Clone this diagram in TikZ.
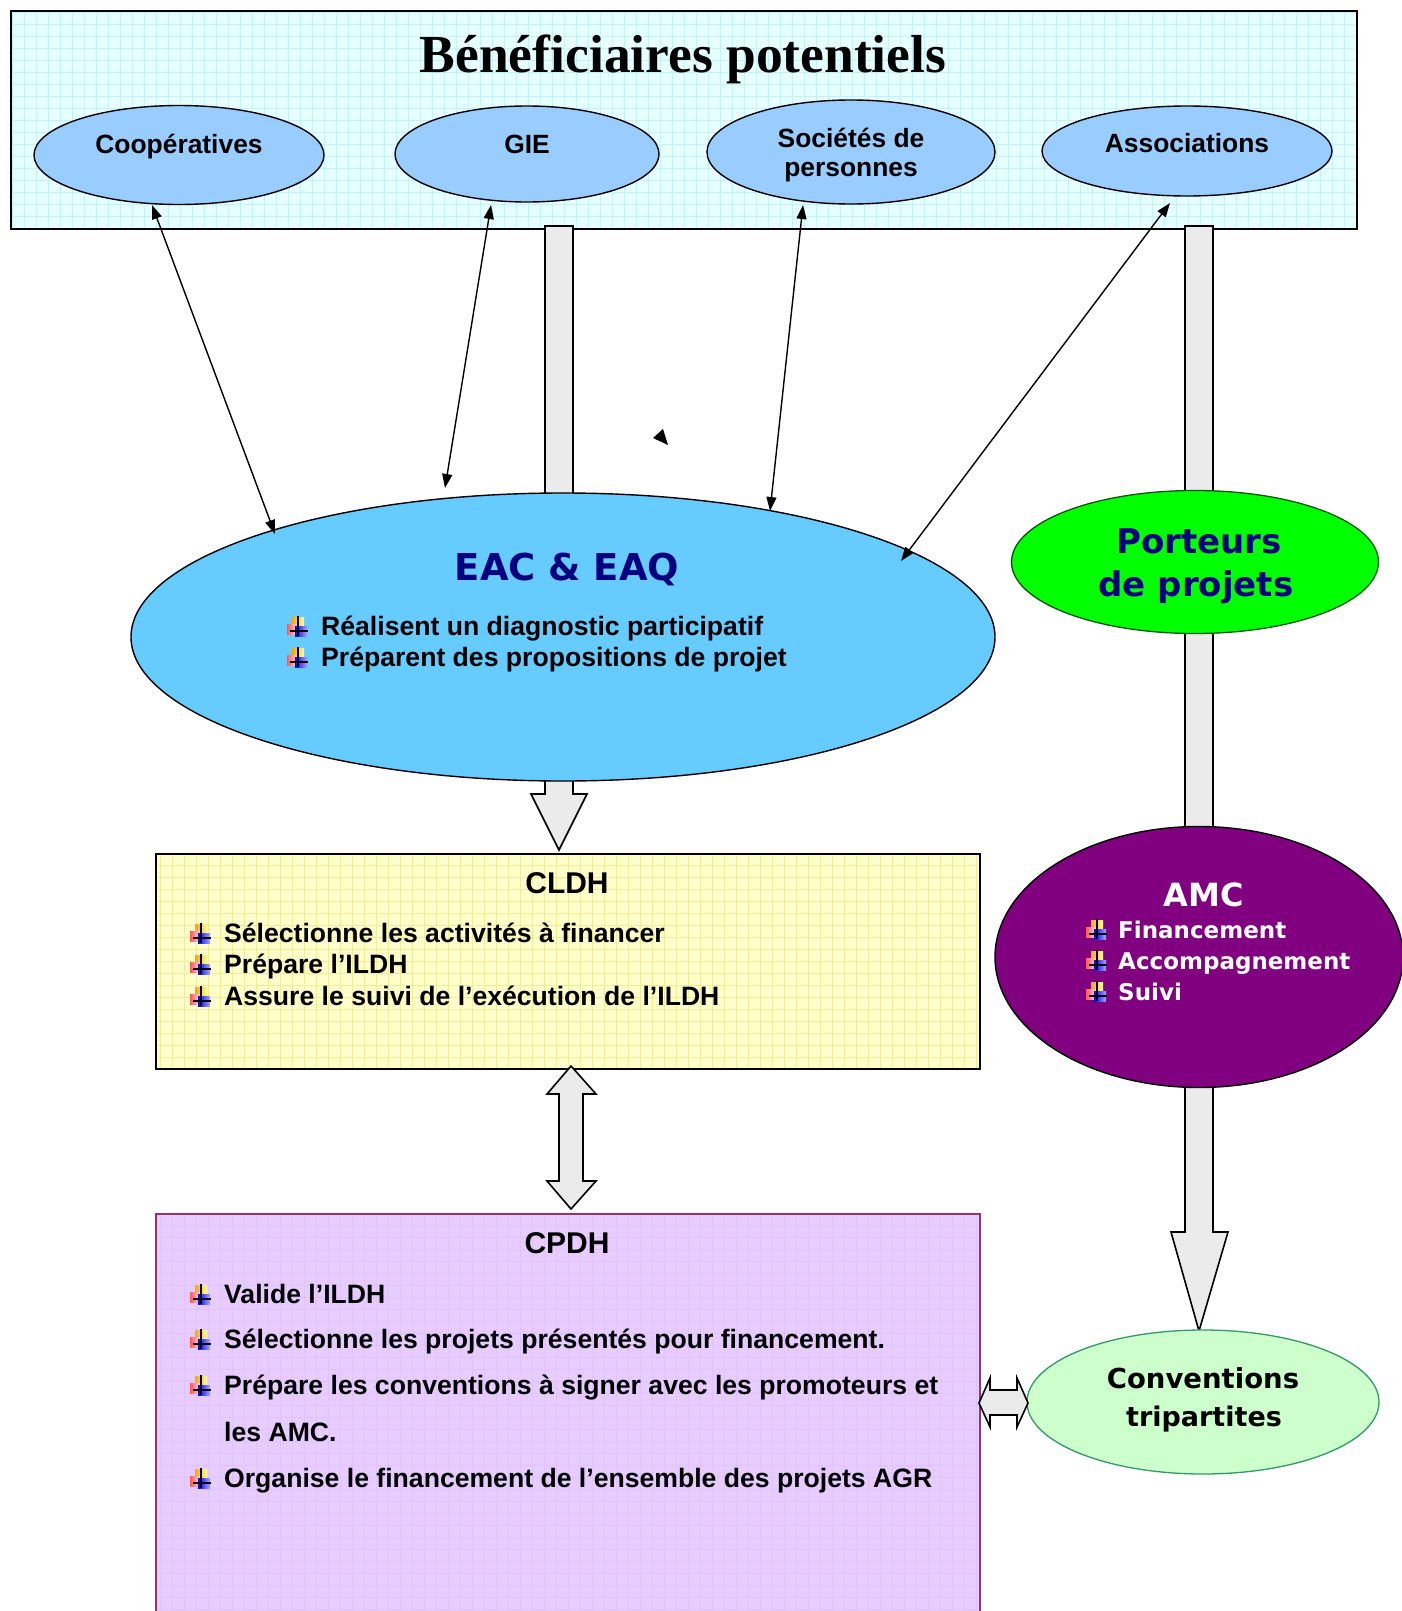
\documentclass[tikz,border=0pt]{standalone}
\usepackage{fontspec}
\setmainfont{Liberation Serif}
\newfontfamily\arl{Liberation Sans}
\newfontfamily\dvs{DejaVu Sans}
\usetikzlibrary{arrows.meta,calc,shapes.geometric}
\definecolor{topfill}{HTML}{E6FFFF}
\definecolor{topgrid}{HTML}{C4F2F8}
\definecolor{ellblue}{HTML}{99CCFF}
\definecolor{eacblue}{HTML}{66CCFF}
\definecolor{navyc}{HTML}{000080}
\definecolor{pgreen}{HTML}{00FF00}
\definecolor{amcpurple}{HTML}{800080}
\definecolor{convfill}{HTML}{CCFFCC}
\definecolor{convline}{HTML}{339966}
\definecolor{cldhfill}{HTML}{FFFFCC}
\definecolor{cldhgrid}{HTML}{F2EC9A}
\definecolor{cpdhfill}{HTML}{E6CCFF}
\definecolor{cpdhgrid}{HTML}{CC99FF}
\definecolor{cpdhline}{HTML}{993366}
\definecolor{barfill}{HTML}{EBEBEB}
\newcommand\bodyf{\arl\bfseries\fontsize{26.6}{32}\selectfont}
\newcommand\lblf{\arl\bfseries\fontsize{26.4}{30}\selectfont}
\tikzset{
  bicon/.pic={
    \fill[left color=orange!70!yellow, right color=yellow!35] (5,0) rectangle (17,10);
    \fill[left color=red!65, right color=red!15] (0,7) rectangle (10,17);
    \fill[left color=blue, right color=blue!35] (8,9) rectangle (20,19);
    \draw[line width=1.2] (11,-1) -- (11,19) (3,14) -- (21,14);
  },
  benef/.style={ellipse, draw, line width=1.4, fill=ellblue, inner sep=0},
  txt/.style={inner sep=0, anchor=base west},
  ctxt/.style={inner sep=0, anchor=base},
  conn/.style={{Triangle[length=14pt,width=10pt]}-{Triangle[length=14pt,width=10pt]}, line width=1.4},
  blockarr/.style={fill=barfill, draw, line width=1.6, line join=miter},
}
\begin{document}
\begin{tikzpicture}[x=1pt,y=-1pt]
\useasboundingbox (0,0) rectangle (1402,1611);
\begin{scope}
\clip (0,0) rectangle (1402,1611);
\fill[white] (0,0) rectangle (1402,1611);

% top box
\node[draw, line width=1.8, fill=topfill, anchor=north west, minimum width=1346, minimum height=218, inner sep=0,
  path picture={\draw[topgrid, line width=0.5] (path picture bounding box.south west) grid[step=12pt] (path picture bounding box.north east);}]
  (top) at (10,10) {};
\node[ctxt, font=\bfseries\fontsize{53.5}{60}\selectfont] (title) at (683,72) {Bénéficiaires potentiels};

% bars and block arrows (behind ellipses)
\draw[blockarr] (545,226) rectangle (573,500);
\draw[blockarr] (1185,226) rectangle (1213,900);
\draw[blockarr] (545,760) -- (545,794) -- (531,794) -- (559,850) -- (587,794) -- (573,794) -- (573,760);
\draw[blockarr] (1185,1050) -- (1185,1232) -- (1171,1232) -- (1199,1331) -- (1228,1232) -- (1213,1232) -- (1213,1050);

% beneficiary ellipses
\node[benef, minimum width=290, minimum height=99] (coop) at (179,155) {};
\node[benef, minimum width=264, minimum height=96] (gie) at (527,154) {};
\node[benef, minimum width=288, minimum height=104] (soc) at (851,152) {};
\node[benef, minimum width=290, minimum height=90] (assoc) at (1187,151) {};
\node[ctxt, font=\lblf] (coopt) at (179,153) {Coopératives};
\node[ctxt, font=\lblf] (giet) at (527,153) {GIE};
\node[ctxt, font=\lblf] (soct1) at (851,147) {Sociétés de};
\node[ctxt, font=\lblf] (soct2) at (851,176) {personnes};
\node[ctxt, font=\lblf] (assoct) at (1187,152) {Associations};

% EAC ellipse
\node[ellipse, draw, line width=1.4, fill=eacblue, minimum width=864, minimum height=288, inner sep=0] (eac) at (563,637) {};
\node[ctxt, font=\dvs\bfseries\fontsize{37}{40}\selectfont, text=navyc] (eact) at (567,580) {EAC \& EAQ};
\pic at (287,617) {bicon};
\node[txt, font=\bodyf] (e1) at (321,635) {Réalisent un diagnostic participatif};
\pic at (287,648) {bicon};
\node[txt, font=\bodyf] (e2) at (321,666) {Préparent des propositions de projet};

% thin arrows
\coordinate (a1) at (152,205); \coordinate (b1) at (275,534);
\coordinate (a2) at (491,205); \coordinate (b2) at (445,488);
\coordinate (a3) at (803,205); \coordinate (b3) at (770,511);
\coordinate (a4) at (1170,203); \coordinate (b4) at (901,561);
\draw[conn] (a1) -- (b1);
\draw[conn] (a2) -- (b2);
\draw[conn] (a3) -- (b3);
\draw[conn] (a4) -- (b4);
\fill (653,438) -- (663,429) -- (668,445) -- cycle;

% porteurs
\node[ellipse, draw=green!35!black, line width=1.3, fill=pgreen, minimum width=367, minimum height=143, inner sep=0] (port) at (1195,562) {};
\node[ctxt, font=\dvs\bfseries\fontsize{34}{40}\selectfont, text=navyc] (portt1) at (1199,553) {Porteurs};
\node[ctxt, font=\dvs\bfseries\fontsize{34}{40}\selectfont, text=navyc] (portt2) at (1196,596) {de projets};

% AMC
\node[ellipse, draw, line width=1.4, fill=amcpurple, minimum width=408, minimum height=261, inner sep=0] (amc) at (1199,957) {};
\node[ctxt, font=\dvs\bfseries\fontsize{32}{36}\selectfont, text=white] (amct) at (1204,906) {AMC};
\pic at (1086,920) {bicon};
\node[txt, font=\dvs\bfseries\fontsize{23}{28}\selectfont, text=white] (m1) at (1118,938) {Financement};
\pic at (1086,951) {bicon};
\node[txt, font=\dvs\bfseries\fontsize{23}{28}\selectfont, text=white] (m2) at (1118,969) {Accompagnement};
\pic at (1086,982) {bicon};
\node[txt, font=\dvs\bfseries\fontsize{23}{28}\selectfont, text=white] (m3) at (1118,1000) {Suivi};

% CLDH
\node[draw, line width=1.6, fill=cldhfill, anchor=north west, minimum width=824, minimum height=215, inner sep=0,
  path picture={\draw[cldhgrid, line width=0.5] (path picture bounding box.south west) grid[step=12pt] (path picture bounding box.north east);}]
  (cldh) at (155,853) {};
\node[ctxt, font=\arl\bfseries\fontsize{30}{34}\selectfont] (cldht) at (567,893) {CLDH};
\pic at (190,924) {bicon};
\node[txt, font=\bodyf] (c1) at (224,942) {Sélectionne les activités à financer};
\pic at (190,955) {bicon};
\node[txt, font=\bodyf] (c2) at (224,973) {Prépare l’ILDH};
\pic at (190,987) {bicon};
\node[txt, font=\bodyf] (c3) at (224,1005) {Assure le suivi de l’exécution de l’ILDH};

% CPDH
\node[draw=cpdhline, line width=1.6, fill=cpdhfill, anchor=north west, minimum width=824, minimum height=430, inner sep=0,
  path picture={\draw[cpdhgrid!60, line width=0.5] (path picture bounding box.south west) grid[step=12pt] (path picture bounding box.north east);}]
  (cpdh) at (155,1213) {};
\node[ctxt, font=\arl\bfseries\fontsize{30}{34}\selectfont] (cpdht) at (567,1253) {CPDH};
\pic at (190,1285) {bicon};
\node[txt, font=\bodyf] (p1) at (224,1303) {Valide l’ILDH};
\pic at (190,1330) {bicon};
\node[txt, font=\bodyf] (p2) at (224,1348) {Sélectionne les projets présentés pour financement.};
\pic at (190,1376) {bicon};
\node[txt, font=\bodyf] (p3) at (224,1394) {Prépare les conventions à signer avec les promoteurs et};
\node[txt, font=\bodyf] (p3b) at (224,1441) {les AMC.};
\pic at (190,1469) {bicon};
\node[txt, font=\bodyf] (p4) at (224,1487) {Organise le financement de l’ensemble des projets AGR};

% CLDH <-> CPDH
\draw[blockarr] (571,1066) -- (596,1094) -- (583,1094) -- (583,1181) -- (596,1181) -- (571,1209) -- (547,1181) -- (559,1181) -- (559,1094) -- (547,1094) -- cycle;

% Conventions
\node[ellipse, draw=convline, line width=1.3, fill=convfill, minimum width=352, minimum height=144, inner sep=0] (conv) at (1203,1402) {};
\node[ctxt, font=\dvs\bfseries\fontsize{27.5}{32}\selectfont] (convt1) at (1203,1388) {Conventions};
\node[ctxt, font=\dvs\bfseries\fontsize{27}{32}\selectfont] (convt2) at (1204,1426) {tripartites};

% CPDH <-> Conventions
\draw[blockarr] (979,1403) -- (990,1378) -- (990,1390) -- (1017,1390) -- (1017,1378) -- (1028,1403) -- (1017,1427) -- (1017,1415) -- (990,1415) -- (990,1427) -- cycle;
\end{scope}
\end{tikzpicture}
\end{document}
